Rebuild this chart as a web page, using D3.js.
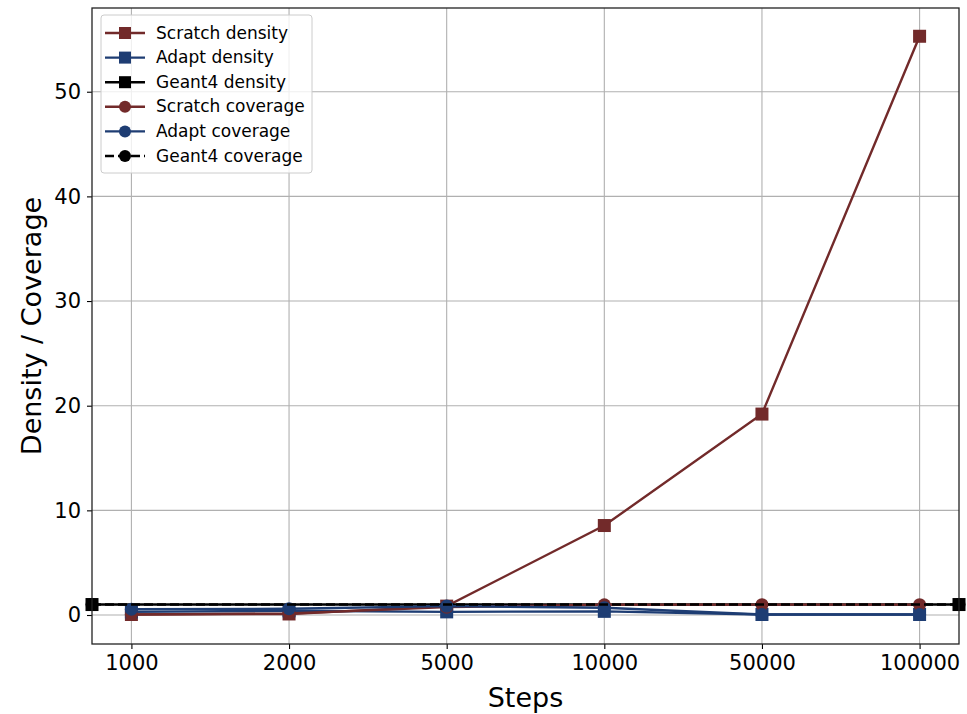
<!DOCTYPE html>
<html><head><meta charset="utf-8">
<script src="https://cdn.jsdelivr.net/npm/d3@7"></script>
<style>body{margin:0;background:#fff;} text{font-family:"DejaVu Sans",sans-serif;}</style>
</head><body><svg id="c" width="967" height="714"></svg>
<script>
const categories = ["1000","2000","5000","10000","50000","100000"];
const scratchDensity = [0.05, 0.1, 0.85, 8.55, 19.2, 55.3];
const adaptDensity = [0.3, 0.4, 0.3, 0.35, 0.05, 0.05];
const scratchCoverage = [0.05, 0.15, 0.75, 0.98, 0.99, 0.99];
const adaptCoverage = [0.55, 0.6, 0.85, 0.7, 0.05, 0.05];
const geantX = [-0.25, 5.25];
const geantDensity = [1, 1];
const geantCoverage = [1, 1];
const yTicks = [0, 10, 20, 30, 40, 50];

const red = "#722a2a", blue = "#1e3d73", black = "#000";
const svg = d3.select("#c");
const L = 92, R = 959, T = 8, B = 644;
const x = d3.scaleLinear().domain([-0.25, 5.25]).range([L, R]);
const y = d3.scaleLinear().domain([-2.77, 58.0]).range([B, T]);

// grid
const g = svg.append("g");
g.selectAll(".gx").data(categories).enter().append("line")
  .attr("x1", (d,i)=>x(i)).attr("x2",(d,i)=>x(i)).attr("y1",T).attr("y2",B)
  .attr("stroke","#b0b0b0").attr("stroke-width",1.1);
g.selectAll(".gy").data(yTicks).enter().append("line")
  .attr("x1",L).attr("x2",R).attr("y1",d=>y(d)).attr("y2",d=>y(d))
  .attr("stroke","#b0b0b0").attr("stroke-width",1.1);

// axes
const xAxis = d3.axisBottom(x).tickValues(d3.range(categories.length)).tickFormat(i=>categories[i]).tickSize(5).tickPadding(6);
const yAxis = d3.axisLeft(y).tickValues(yTicks).tickSize(5).tickPadding(6);
const gx = svg.append("g").attr("transform",`translate(0,${B})`).call(xAxis);
const gy = svg.append("g").attr("transform",`translate(${L},0)`).call(yAxis);
[gx,gy].forEach(a=>{a.select(".domain").remove();a.selectAll("text").attr("font-size",21).attr("fill","#000").attr("font-family","DejaVu Sans");a.selectAll("line").attr("stroke","#000").attr("stroke-width",1.1);});

const plot = svg.append("g");
function series(xs, ys, color, marker, dash){
  const line = d3.line().x((d,i)=>x(xs[i])).y(d=>y(d));
  plot.append("path").datum(ys).attr("d",line).attr("fill","none").attr("stroke",color).attr("stroke-width",2.4)
    .attr("stroke-dasharray", dash||null);
  const m = plot.append("g");
  ys.forEach((v,i)=>{
    if(marker==="s") m.append("rect").attr("x",x(xs[i])-6.5).attr("y",y(v)-6.5).attr("width",13).attr("height",13).attr("fill",color);
    else m.append("circle").attr("cx",x(xs[i])).attr("cy",y(v)).attr("r",6.5).attr("fill",color);
  });
}
const idx = d3.range(categories.length);
series(idx, scratchDensity, red, "s");
series(idx, adaptDensity, blue, "s");
series(geantX, geantDensity, black, "s");
series(idx, scratchCoverage, red, "o");
series(idx, adaptCoverage, blue, "o");
series(geantX, geantCoverage, black, "o", "9,4");

// frame
svg.append("rect").attr("x",L).attr("y",T).attr("width",R-L).attr("height",B-T).attr("fill","none").attr("stroke","#222").attr("stroke-width",1.3);

// labels
svg.append("text").attr("x",(L+R)/2).attr("y",707).attr("text-anchor","middle").attr("font-size",27).text("Steps");
svg.append("text").attr("transform",`translate(41,${(T+B)/2}) rotate(-90)`).attr("text-anchor","middle").attr("font-size",27).text("Density / Coverage");

// legend
const legendItems = [
  {label:"Scratch density", color:red, m:"s"},
  {label:"Adapt density", color:blue, m:"s"},
  {label:"Geant4 density", color:black, m:"s"},
  {label:"Scratch coverage", color:red, m:"o"},
  {label:"Adapt coverage", color:blue, m:"o"},
  {label:"Geant4 coverage", color:black, m:"o", dash:"9,4"}
];
const lg = svg.append("g");
lg.append("rect").attr("x",101).attr("y",15).attr("width",211).attr("height",158).attr("rx",3)
  .attr("fill","#fff").attr("fill-opacity",0.8).attr("stroke","#cccccc").attr("stroke-width",1);
legendItems.forEach((d,i)=>{
  const cy = 33 + i*24.6;
  lg.append("line").attr("x1",105).attr("x2",145).attr("y1",cy).attr("y2",cy).attr("stroke",d.color).attr("stroke-width",2.4).attr("stroke-dasharray",d.dash||null);
  if(d.m==="s") lg.append("rect").attr("x",125-6).attr("y",cy-6).attr("width",12).attr("height",12).attr("fill",d.color);
  else lg.append("circle").attr("cx",125).attr("cy",cy).attr("r",6).attr("fill",d.color);
  lg.append("text").attr("x",156).attr("y",cy+5.5).attr("font-size",17).text(d.label);
});
</script></body></html>
